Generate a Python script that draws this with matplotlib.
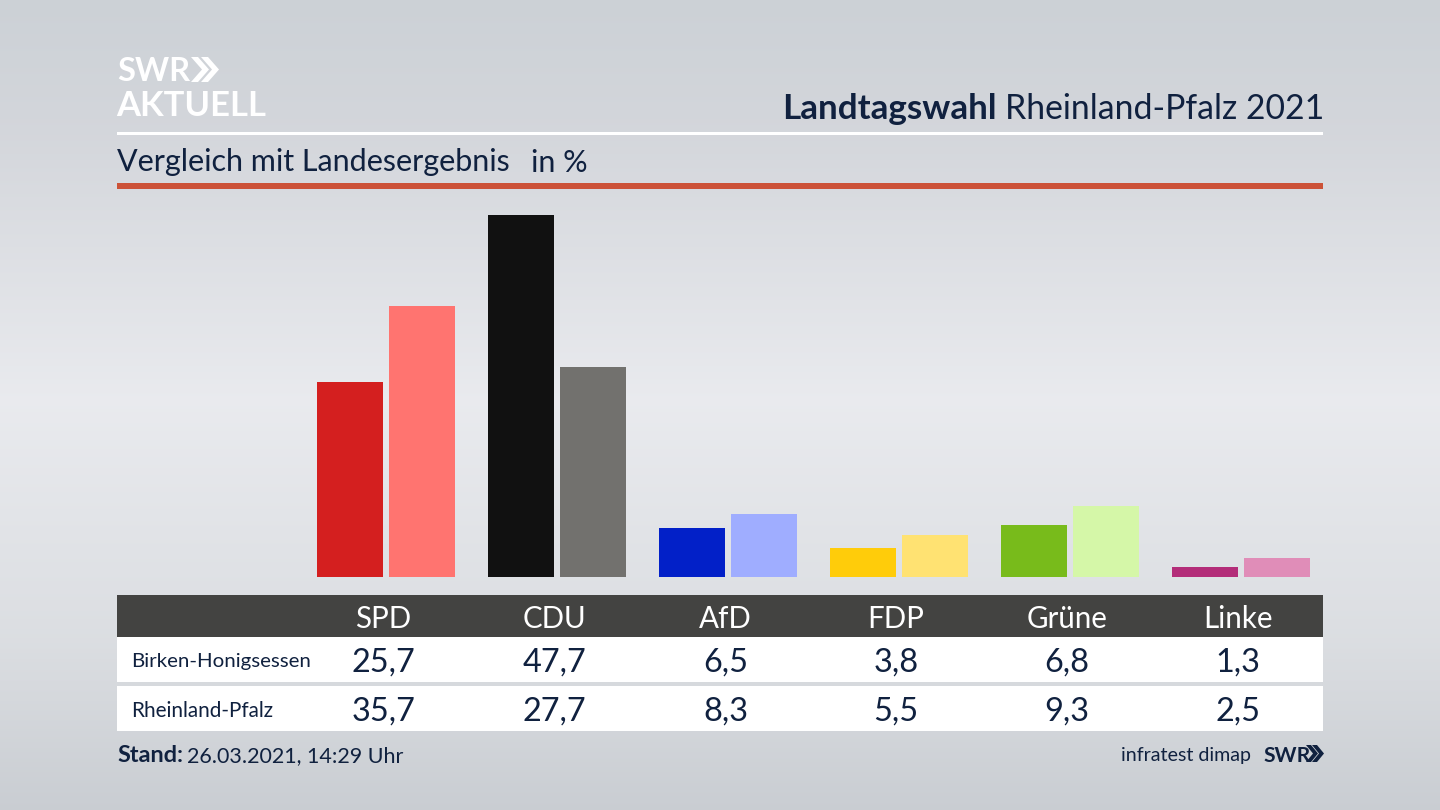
import numpy as np
import matplotlib
matplotlib.use("Agg")
import matplotlib.pyplot as plt
from matplotlib.patches import Rectangle, Polygon

parties = ["SPD", "CDU", "AfD", "FDP", "Grüne", "Linke"]
birken = [25.7, 47.7, 6.5, 3.8, 6.8, 1.3]
land = [35.7, 27.7, 8.3, 5.5, 9.3, 2.5]
row_names = ["Birken-Honigsessen", "Rheinland-Pfalz"]
colors_birken = ["#d41f1f", "#111111", "#0220c8", "#ffcc0a", "#78bb1b", "#b32d79"]
colors_land = ["#ff7470", "#72716e", "#9fadff", "#ffe272", "#d5f7a8", "#e08db8"]

W, H = 1440, 810
NAVY = "#10213f"
FONT = "Lato"
plt.rcParams["font.family"] = [FONT, "DejaVu Sans"]

fig = plt.figure(figsize=(W / 100, H / 100), dpi=100)
bg = fig.add_axes([0, 0, 1, 1])
bg.set_xlim(0, W); bg.set_ylim(H, 0); bg.axis("off")

# background gradient
yy = np.arange(H)
stops_y = [0, 130, 400, 640, 810]
stops_v = [[0.80, 0.82, 0.84], [0.83, 0.84, 0.86], [0.915, 0.92, 0.935], [0.86, 0.87, 0.885], [0.79, 0.805, 0.825]]
grad = np.stack([np.interp(yy, stops_y, [s[i] for s in stops_v]) for i in range(3)], axis=1)
img = np.repeat(grad[:, None, :], 2, axis=1)
bg.imshow(img, extent=[0, W, H, 0], aspect="auto", zorder=0)


def px(x, y, s, size, color=NAVY, ha="left", weight="normal", va="center_baseline", **kw):
    bg.text(x, y, s, fontsize=size * 0.72, color=color, ha=ha, va=va, weight=weight, zorder=5, **kw)


def rect(x0, y0, x1, y1, color):
    bg.add_patch(Rectangle((x0, y0), x1 - x0, y1 - y0, fc=color, ec="none", zorder=2))


def chevrons(x, y0, y1, w, t, gap, color):
    for k in range(2):
        xk = x + k * gap
        m = (y0 + y1) / 2
        bg.add_patch(Polygon([(xk, y0), (xk + t, y0), (xk + t + w, m), (xk + t, y1), (xk, y1), (xk + w, m)],
                             closed=True, fc=color, ec="none", zorder=5))


# header
px(117, 69, "SWR", 32.5, color="white", weight="bold")
chevrons(191, 57, 82, 11, 7, 10, "white")
px(116, 103, "AKTUELL", 34.7, color="white", weight="bold")
px(1324, 106, "Rheinland-Pfalz 2021", 33.8, ha="right")
px(997, 106, "Landtagswahl", 35, ha="right", weight="bold")
rect(117, 132, 1323, 135, "white")
px(117, 160, "Vergleich mit Landesergebnis", 30.5)
px(531, 160, "in %", 30.5)
rect(117, 183, 1323, 189, "#cc5238")

# bars
PX_PER_UNIT = 362 / 47.7
STEP = 170.9
CENTER0 = 386
ax_top, ax_bot, ax_l, ax_r = 195, 577, 117, 1323
ax = fig.add_axes([ax_l / W, 1 - ax_bot / H, (ax_r - ax_l) / W, (ax_bot - ax_top) / H])
ax.patch.set_alpha(0)
ax.axis("off")
ax.set_xlim((ax_l - CENTER0) / STEP, (ax_r - CENTER0) / STEP)
ax.set_ylim(0, (ax_bot - ax_top) / PX_PER_UNIT)
x = np.arange(len(parties))
bw = 66 / STEP
off = 36 / STEP
ax.bar(x - off, birken, width=bw, color=colors_birken)
ax.bar(x + off, land, width=bw, color=colors_land)

# table
rect(117, 595, 1323, 637, "#434341")
rect(117, 637, 1323, 682, "white")
rect(117, 686, 1323, 731, "white")
col_px = [383.5, 554.5, 725.5, 896, 1067, 1238]
for cx, p, a, b in zip(col_px, parties, birken, land):
    px(cx, 616, p, 29.5, color="white", ha="center")
    px(cx, 660, f"{a:.1f}".replace(".", ","), 32.5, ha="center")
    px(cx, 709, f"{b:.1f}".replace(".", ","), 32.5, ha="center")
px(131, 660, row_names[0], 20.5)
px(131, 709, row_names[1], 20.8)

# footer
px(117, 754, "Stand:", 23.5, weight="bold")
px(187, 754, "26.03.2021, 14:29 Uhr", 21.5)
px(1251, 754, "infratest dimap", 19.6, ha="right")
px(1263, 754, "SWR", 21, weight="bold")
chevrons(1306, 745, 762, 7, 5, 6, NAVY)

fig.savefig("out.png", dpi=100)
